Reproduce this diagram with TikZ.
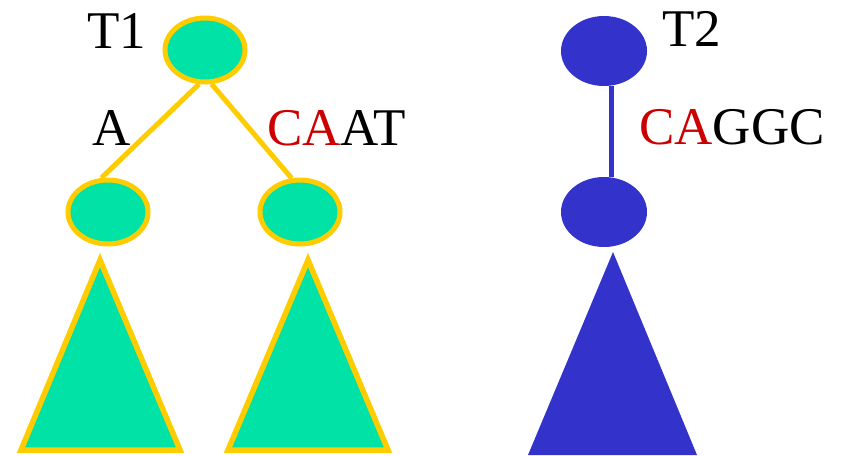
\documentclass[tikz,border=0pt]{standalone}
\usepackage{fontspec}
\setmainfont{Liberation Serif}
\usetikzlibrary{shapes.geometric}
\definecolor{leafgreen}{RGB}{0,226,166}
\definecolor{gold}{RGB}{255,204,0}
\definecolor{treeblue}{RGB}{51,51,204}
\definecolor{seqred}{RGB}{204,0,0}
\tikzset{
  gnode/.style={
    ellipse, draw=gold, fill=leafgreen, line width=5pt,
    minimum width=80pt, minimum height=64pt, inner sep=0pt
  },
  bnode/.style={
    ellipse, fill=treeblue, draw=none,
    minimum width=86pt, minimum height=70pt, inner sep=0pt
  },
  gedge/.style={gold, line width=5pt},
  bedge/.style={treeblue, line width=5.5pt},
  gsub/.style={draw=gold, fill=leafgreen, line width=5.5pt},
  bsub/.style={fill=treeblue},
  lbl/.style={anchor=base west, inner sep=0pt, font=\fontsize{53}{60}\selectfont}
}

\begin{document}
\begin{tikzpicture}[x=1pt, y=-1pt]
  \useasboundingbox (0,0) rectangle (842,455);

  % first tree
  \node[gnode] (t1root) at (205,50) {};
  \node[gnode] (t1left) at (108,212) {};
  \node[gnode] (t1right) at (300,212) {};
  \draw[gedge] (t1root.-100) -- (t1left.101);
  \draw[gedge] (t1root.-79) -- (t1right.104);
  \draw[gsub] (100,260) -- (180,450) -- (21,450) -- cycle;
  \draw[gsub] (308,260) -- (388,450) -- (228,450) -- cycle;

  \node[lbl] (t1name) at (87,48) {T1};
  \node[lbl] (lblA) at (92,145) {A};
  \node[lbl] (lblCAAT) at (267,145) {\textcolor{seqred}{CA}AT};

  % second tree
  \node[bnode] (t2root) at (604,51) {};
  \node[bnode] (t2child) at (604,212) {};
  \draw[bedge] (t2root.-78) -- (t2child.78);
  \fill[bsub] (613,252) -- (697,455) -- (528,455) -- cycle;

  \node[lbl] (t2name) at (662,46) {T2};
  \node[lbl] (lblCAGGC) at (639,144) {\textcolor{seqred}{CA}GGC};
\end{tikzpicture}
\end{document}
